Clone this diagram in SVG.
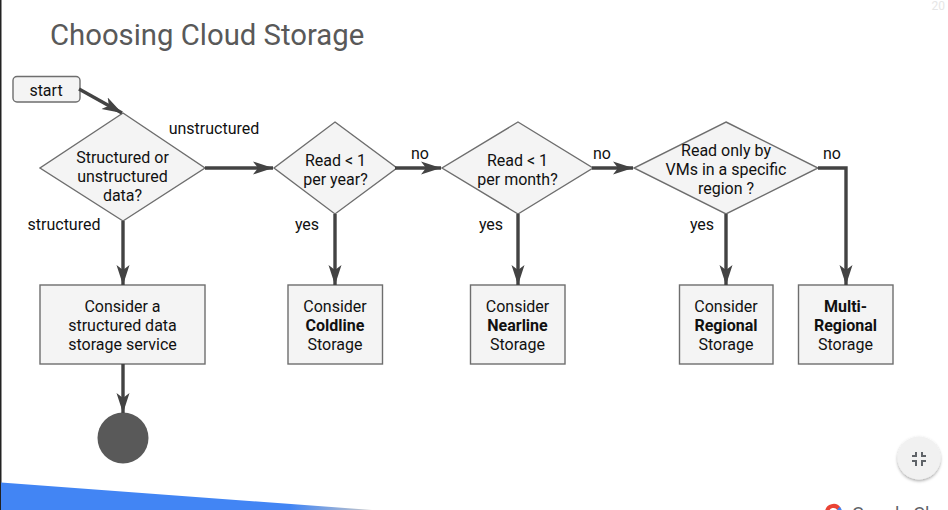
<svg xmlns="http://www.w3.org/2000/svg" width="948" height="510" viewBox="0 0 948 510">
<style>
text{font-family:Roboto,"Liberation Sans",sans-serif;font-size:16px;fill:#111;text-anchor:middle}
.shape{fill:#f4f4f4;stroke:#6e6e6e;stroke-width:1.400}
.c{fill:none;stroke:#434343;stroke-width:3.400;marker-end:url(#a)}
.l{text-anchor:start}
.b{font-weight:700}
</style>
<defs>
<marker id="a" markerUnits="userSpaceOnUse" markerWidth="22" markerHeight="16" refX="20" refY="8" orient="auto"><path d="M0 1.500L20 8L0 14.500L5 8Z" fill="#434343"/></marker>
<linearGradient id="g" x1="0" x2="1" y1="0" y2="0"><stop offset="0" stop-color="#4285f4"/><stop offset=".78" stop-color="#4285f4"/><stop offset="1" stop-color="#c8c8c8"/></linearGradient>
<filter id="s" x="-30%" y="-30%" width="160%" height="160%"><feDropShadow dx="0" dy="1.500" stdDeviation="1.500" flood-color="#000" flood-opacity=".35"/></filter>
</defs>
<rect width="948" height="510" fill="#fff"/>
<rect width="1.500" height="510" fill="#222"/>
<path d="M1 482.500L372 510H1Z" fill="url(#g)"/>
<text x="50" y="45" class="l" style="font-size:29.300px;fill:#595959">Choosing Cloud Storage</text>
<text x="945" y="10" style="font-size:12px;fill:#e6e6e6;text-anchor:end">20</text>
<g id="start"><rect class="shape" x="13" y="76.500" width="67" height="25.500" rx="4"/><text x="46" y="95.500">start</text></g>
<g id="d1"><path class="shape" d="M123 113L205 168L123 221L40 168Z"/><text x="122.500" y="162.500">Structured or</text><text x="122.500" y="181.500">unstructured</text><text x="122.500" y="200.500">data?</text></g>
<g id="d2"><path class="shape" d="M335 122L397 168L335 214L274 168Z"/><text x="335.500" y="165.500">Read &lt; 1</text><text x="335.500" y="184.500">per year?</text></g>
<g id="d3"><path class="shape" d="M518 122L593 168L518 214L442 168Z"/><text x="517.500" y="165.500">Read &lt; 1</text><text x="517.500" y="184.500">per month?</text></g>
<g id="d4"><path class="shape" d="M726 122L818 168L726 214L634 168Z"/><text x="726" y="155.500">Read only by</text><text x="726" y="174.500">VMs in a specific</text><text x="726" y="193.500">region ?</text></g>
<g id="b1"><rect class="shape" x="40" y="285" width="165" height="79"/><text x="122.500" y="311.500">Consider a</text><text x="122.500" y="330.500">structured data</text><text x="122.500" y="349.500">storage service</text></g>
<g id="b2"><rect class="shape" x="288" y="285" width="94.500" height="79"/><text x="335" y="311.500">Consider</text><text x="335" y="330.500" class="b">Coldline</text><text x="335" y="349.500">Storage</text></g>
<g id="b3"><rect class="shape" x="470.500" y="285" width="94.500" height="79"/><text x="517.500" y="311.500">Consider</text><text x="517.500" y="330.500" class="b">Nearline</text><text x="517.500" y="349.500">Storage</text></g>
<g id="b4"><rect class="shape" x="679.500" y="285" width="93.500" height="79"/><text x="726" y="311.500">Consider</text><text x="726" y="330.500" class="b">Regional</text><text x="726" y="349.500">Storage</text></g>
<g id="b5"><rect class="shape" x="798.500" y="285" width="94.500" height="79"/><text x="845.500" y="311.500" class="b">Multi-</text><text x="845.500" y="330.500" class="b">Regional</text><text x="845.500" y="349.500">Storage</text></g>
<g id="end"><circle cx="123" cy="438" r="25.500" fill="#595959"/></g>
<g id="connectors">
<path class="c" d="M79 89L122 113"/>
<path class="c" d="M205 168H273"/>
<path class="c" d="M395 168H441"/>
<path class="c" d="M592 168H633"/>
<path class="c" d="M818 168H846V285"/>
<path class="c" d="M123 221V285"/>
<path class="c" d="M335 214V285"/>
<path class="c" d="M518 214V285"/>
<path class="c" d="M726 214V285"/>
<path class="c" d="M123 364V413"/>
</g>
<g id="edge-labels">
<text x="214" y="133.500">unstructured</text>
<text x="64" y="229.500">structured</text>
<text x="420" y="159">no</text>
<text x="602" y="159">no</text>
<text x="832" y="159">no</text>
<text x="307" y="230">yes</text>
<text x="491" y="230">yes</text>
<text x="702" y="230">yes</text>
</g>
<g id="ui"><circle cx="919" cy="458" r="21.500" fill="#f1f1f1" filter="url(#s)"/>
<path d="M912 456H916V452M926 456H922V452M912 461H916V466M926 461H922V466" fill="none" stroke="#5f6368" stroke-width="2"/></g>
<g id="logo"><path d="M827 512A6.500 6.500 0 0 1 839 509" fill="none" stroke="#ea4335" stroke-width="4"/><path d="M838.500 508A7 7 0 0 1 840.500 513" fill="none" stroke="#4285f4" stroke-width="3.500"/><text x="852" y="519.500" class="l" style="font-size:18px;fill:#5f6368">Google Cloud</text></g>
</svg>
